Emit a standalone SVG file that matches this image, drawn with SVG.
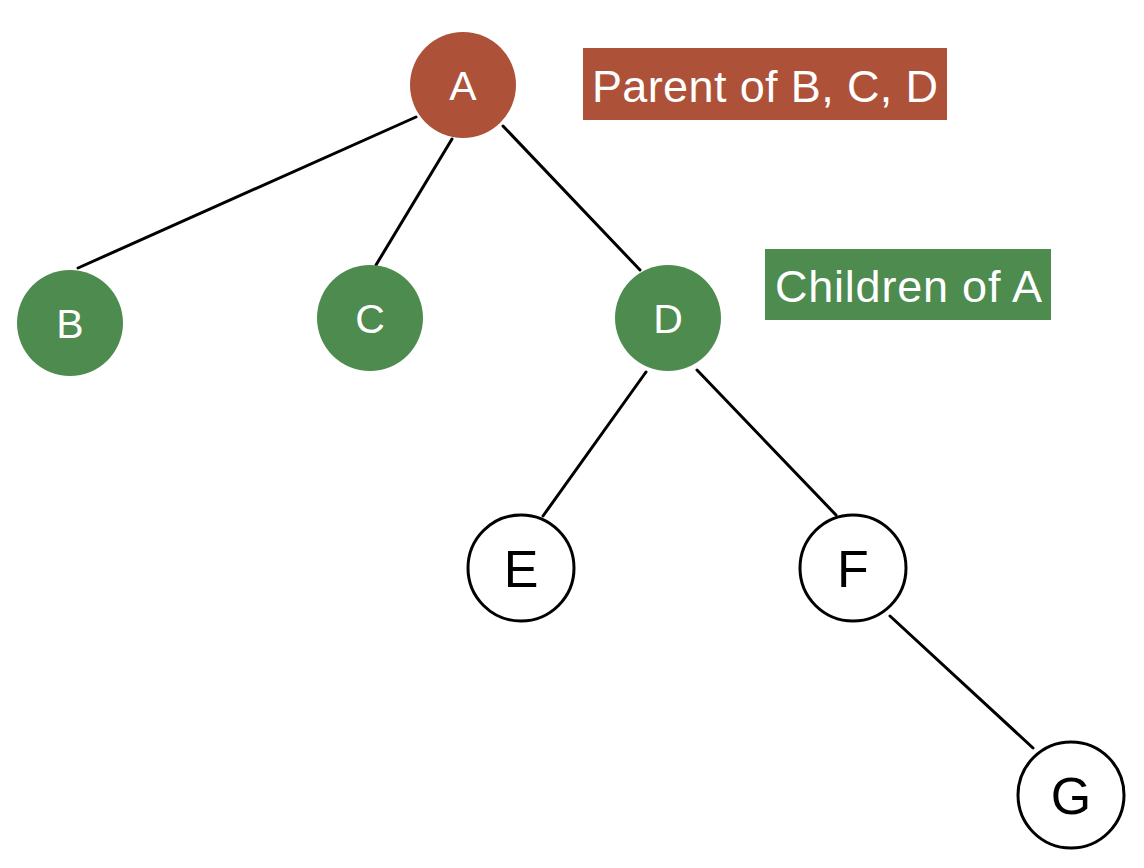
<svg xmlns="http://www.w3.org/2000/svg" width="1144" height="868" viewBox="0 0 1144 868">
<style>
.edge{stroke:#000;stroke-width:3;fill:none;stroke-linecap:round}
.red{fill:#AD5139}
.green{fill:#4D8B4F}
.plain{fill:#fff;stroke:#000;stroke-width:3}
.wl{font-family:"Liberation Sans",Arial,sans-serif;font-size:41px;fill:#fff;text-anchor:middle}
.bl{font-family:"Liberation Sans",Arial,sans-serif;font-size:52px;fill:#000;text-anchor:middle}
.lab{font-family:"Liberation Sans",Arial,sans-serif;font-size:45px;fill:#fff}
</style>
<rect width="1144" height="868" fill="#fff"/>
<g id="connectors">
<line class="edge" x1="416" y1="117" x2="78" y2="268"/>
<line class="edge" x1="452" y1="139" x2="376" y2="265"/>
<line class="edge" x1="503" y1="126" x2="640" y2="270"/>
<line class="edge" x1="646" y1="372" x2="543" y2="516"/>
<line class="edge" x1="697" y1="370" x2="836" y2="515"/>
<line class="edge" x1="890" y1="616" x2="1033" y2="748"/>
</g>
<g id="node-A"><circle class="red" cx="463" cy="85" r="53"/><text class="wl" x="463" y="100">A</text></g>
<g id="node-B"><circle class="green" cx="70" cy="323" r="53"/><text class="wl" x="70" y="338">B</text></g>
<g id="node-C"><circle class="green" cx="370" cy="318" r="53"/><text class="wl" x="370" y="333">C</text></g>
<g id="node-D"><circle class="green" cx="668" cy="318" r="53"/><text class="wl" x="668" y="333">D</text></g>
<g id="node-E"><circle class="plain" cx="521" cy="568" r="53"/><text class="bl" x="521" y="587">E</text></g>
<g id="node-F"><circle class="plain" cx="853" cy="568" r="53"/><text class="bl" x="853" y="587">F</text></g>
<g id="node-G"><circle class="plain" cx="1071" cy="795" r="53"/><text class="bl" x="1071" y="814">G</text></g>
<g id="label-parent"><rect class="red" x="583" y="48" width="364" height="72"/><text class="lab" x="592" y="102" textLength="346">Parent of B, C, D</text></g>
<g id="label-children"><rect class="green" x="765" y="249" width="286" height="71"/><text class="lab" x="775" y="302" textLength="267">Children of A</text></g>
</svg>
